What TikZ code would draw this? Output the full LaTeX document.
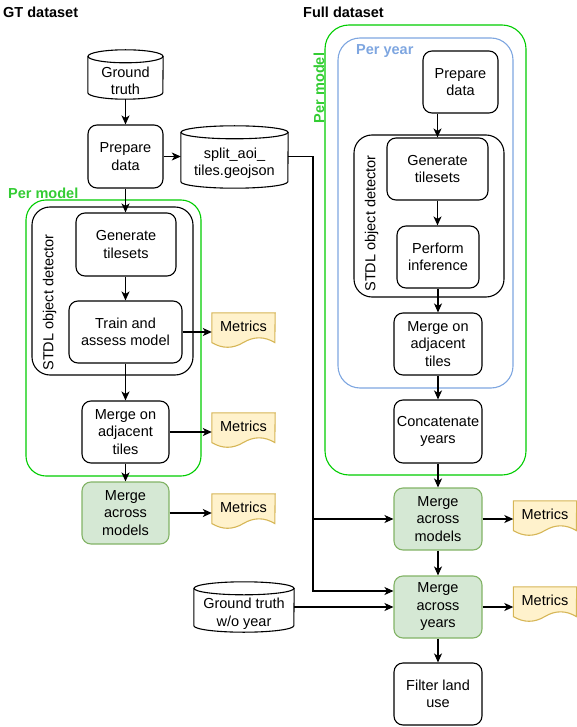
\documentclass[tikz,border=0pt]{standalone}
\usepackage{fontspec}
\setmainfont{Liberation Sans}
\usetikzlibrary{arrows.meta,calc,backgrounds}
\definecolor{pmgreen}{HTML}{00CC00}
\definecolor{pmtext}{HTML}{33CC33}
\definecolor{pyblue}{HTML}{7EA6E0}
\definecolor{gfill}{HTML}{D5E8D4}
\definecolor{gline}{HTML}{82B366}
\definecolor{yfill}{HTML}{FFF2CC}
\definecolor{yline}{HTML}{D6B656}
\newcommand{\fs}{\fontsize{14.5pt}{17.5pt}\selectfont}
\newcommand{\docshape}[1]{%
  \draw[docst] (#1.north west) -- (#1.north east) -- ($(#1.north west)+(63,29.75)$)
    .. controls ($(#1.north west)+(52.5,23.45)$) and ($(#1.north west)+(42,23.45)$) .. ($(#1.north west)+(31.5,29.75)$)
    .. controls ($(#1.north west)+(21,36.05)$) and ($(#1.north west)+(10.5,36.05)$) .. ($(#1.north west)+(0,29.75)$) -- cycle;}
\newcommand{\cylshape}[2]{%
  \draw[cylst] ($(#1.north west)+(0,-6.5)$) -- ($(#1.south west)+(0,-6.5)$)
    arc[start angle=180,end angle=360,x radius=#2pt,y radius=6.5pt] -- ($(#1.north east)+(0,-6.5)$);
  \draw[cylst] ($(#1.north)+(0,-6.5)$) ellipse[x radius=#2pt,y radius=6.5pt];}
\tikzset{
  base/.style={inner sep=0pt, font=\fs, align=center},
  sz/.style 2 args={minimum width=#1pt, minimum height=#2pt},
  box/.style={base, draw, fill=white, rounded corners=9pt, line width=1.1pt},
  gbox/.style={box, fill=gfill, draw=gline},
  cont/.style={draw, rounded corners=20pt, line width=1.1pt, inner sep=0pt},
  cylst/.style={line width=1.1pt},
  docst/.style={draw=yline, fill=yfill, line width=1.1pt},
  docnode/.style={base, minimum width=63pt, minimum height=35pt, text height=10.5pt, text depth=9pt},
  arr/.style={-{Stealth[length=9pt,width=8pt,inset=2.5pt]}, line width=1.1pt},
  ttl/.style={font=\fs\bfseries, inner sep=0pt, anchor=base west},
}
\begin{document}
\begin{tikzpicture}[x=1pt,y=-1pt]
\useasboundingbox (0,0) rectangle (577,727);
% titles
\node[ttl] (t1) at (3,18) {GT dataset};
\node[ttl] (t2) at (303,18) {Full dataset};
% containers
\node[cont, draw=pmgreen, sz={175}{276}] (pmL) at (113.5,338) {};
\node[cont, rounded corners=18pt, sz={161}{168}] (stdlL) at (112.5,291) {};
\node[cont, draw=pmgreen, rounded corners=24pt, sz={201}{450}] (pmR) at (425.5,250) {};
\node[cont, draw=pyblue, rounded corners=22pt, sz={175}{350}] (pyR) at (425.5,213) {};
\node[cont, rounded corners=18pt, sz={150}{162}] (stdlR) at (429,216) {};
% container labels
\node[ttl, text=pmtext] (pml) at (8,198.5) {Per model};
\node[ttl, text=pyblue] (pyl) at (356,54.5) {Per year};
\node[base, font=\fs\bfseries, text=pmtext, rotate=90] (pmr) at (319,88) {Per model};
\node[base, rotate=90] (sl) at (49.5,302.5) {STDL object detector};
\node[base, rotate=90] (sr) at (371.5,223.5) {STDL object detector};
% left column
\node[base, sz={75}{36}] (gt) at (125.5,81) {Ground\\truth};
\cylshape{gt}{37.5}
\node[box, sz={75}{63}] (prepL) at (125.5,156.5) {Prepare\\data};
\node[base, sz={107}{49}] (split) at (234.5,163.5) {split\_aoi\_\\tiles.geojson};
\cylshape{split}{53.5}
\node[box, sz={100}{63}] (genL) at (126,244.5) {Generate\\tilesets};
\node[box, sz={113}{62}] (trainL) at (125.5,332) {Train and\\assess model};
\node[box, sz={87}{62}] (madjL) at (125.5,432) {Merge on\\adjacent\\tiles};
\node[gbox, sz={87}{62}] (macrossL) at (125.5,513) {Merge\\across\\models};
\node[docnode] (m1) at (243.5,330.5) {Metrics};
\node[docnode] (m2) at (243.5,430.5) {Metrics};
\node[docnode] (m3) at (243.5,511.5) {Metrics};
% right column
\node[box, sz={75}{62}] (prepR) at (460.5,82) {Prepare\\data};
\node[box, sz={101}{62}] (genR) at (437.5,169) {Generate\\tilesets};
\node[box, sz={82}{62}] (infR) at (438,257) {Perform\\inference};
\node[box, sz={88}{62}] (madjR) at (438,344) {Merge on\\adjacent\\tiles};
\node[box, sz={88}{63}] (concat) at (438,431.5) {Concatenate\\years};
\node[gbox, sz={88}{62}] (macrossR) at (438,519) {Merge\\across\\models};
\node[gbox, sz={88}{62}] (myears) at (438,607) {Merge\\across\\years};
\node[box, sz={88}{62}] (filter) at (438,694) {Filter land\\use};
\node[docnode] (mR1) at (545,518.5) {Metrics};
\node[docnode] (mR2) at (545,604.5) {Metrics};
\node[base, sz={100}{37}] (gtw) at (244,613.5) {Ground truth\\w/o year};
\cylshape{gtw}{50}
\begin{pgfonlayer}{background}
\docshape{m1}\docshape{m2}\docshape{m3}\docshape{mR1}\docshape{mR2}
\end{pgfonlayer}
% connectors left
\draw[arr] (gt.south) -- (gt.south |- prepL.north);
\draw[arr] (prepL.east) -- (prepL.east -| split.west);
\draw[arr] (prepL.south) -- (prepL.south |- genL.north);
\draw[arr] (genL.south -| trainL.north) -- (trainL.north);
\draw[arr] (trainL.south) -- (trainL.south |- madjL.north);
\draw[arr] (madjL.south) -- (macrossL.north);
\draw[arr] (trainL.east) -- (trainL.east -| m1.west);
\draw[arr] (madjL.east) -- (madjL.east -| m2.west);
\draw[arr] (macrossL.east) -- (macrossL.east -| m3.west);
% bus from split
\coordinate (b1) at (313,519);
\coordinate (b2) at (313,591);
\draw[arr] (prepL.east -| split.east) -| (b2) -- (b2 -| myears.west);
\draw[arr] (b1) -- (b1 -| macrossR.west);
% connectors right
\draw[arr] (prepR.south -| genR.north) -- (genR.north);
\draw[arr] (genR.south) -- (genR.south |- infR.north);
\draw[arr] (infR.south) -- (infR.south |- madjR.north);
\draw[arr] (madjR.south) -- (concat.north);
\draw[arr] (concat.south) -- (macrossR.north);
\draw[arr] (macrossR.south) -- (myears.north);
\draw[arr] (myears.south) -- (filter.north);
\draw[arr] (macrossR.east) -- (macrossR.east -| mR1.west);
\draw[arr] (myears.east) -- (myears.east -| mR2.west);
\draw[arr] (myears.west -| gtw.east) -- (myears.west);
\end{tikzpicture}
\end{document}
